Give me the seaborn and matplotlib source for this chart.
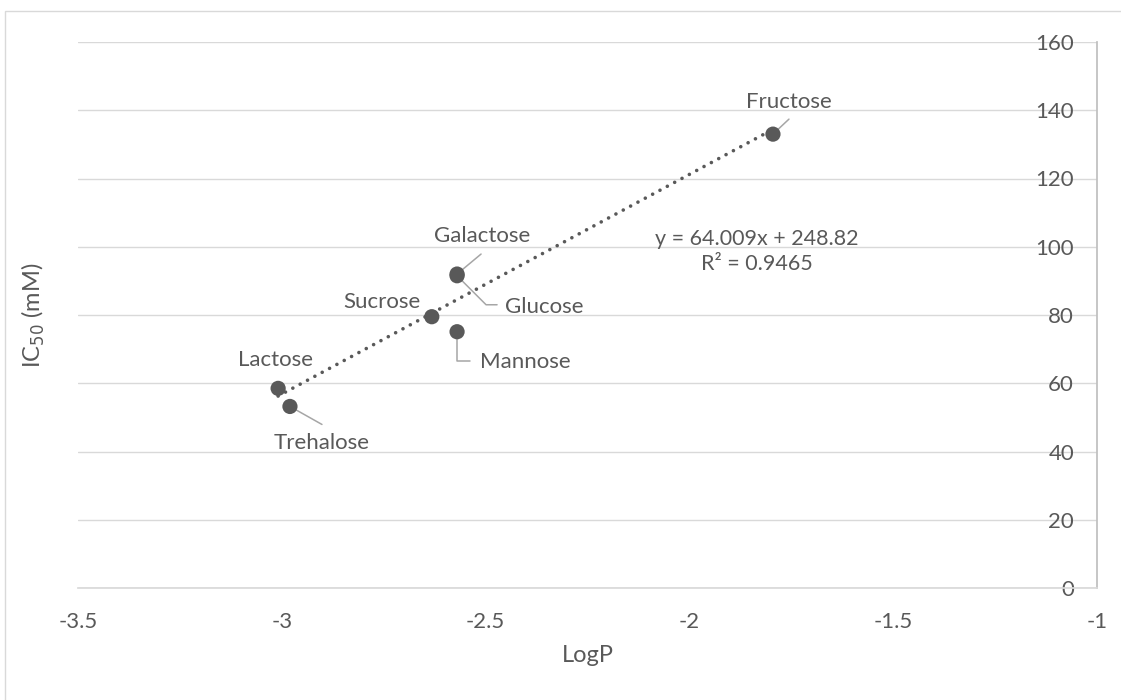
import matplotlib
matplotlib.use("Agg")
import matplotlib.pyplot as plt
from matplotlib.patches import Rectangle
import pandas as pd
import seaborn as sns

# values
sugars = ["Fructose", "Galactose", "Glucose", "Sucrose", "Mannose", "Lactose", "Trehalose"]
logp = [-1.795, -2.570, -2.570, -2.632, -2.570, -3.009, -2.980]
ic50 = [133.0, 92.0, 91.5, 79.5, 75.1, 58.5, 53.2]

equation = "y = 64.009x + 248.82\nR² = 0.9465"
x_ticks = [-3.5, -3, -2.5, -2, -1.5, -1]
x_tick_labels = ["-3.5", "-3", "-2.5", "-2", "-1.5", "-1"]
y_ticks = [0, 20, 40, 60, 80, 100, 120, 140, 160]

# label placement: text offset (px), alignment, leader end offset (px), leader style
label_pos = {
    "Fructose": ((16, 32), "center", (16, 15), None),
    "Galactose": ((25, 38), "center", (24, 20), None),
    "Glucose": ((48, -31), "left", (40, -29), "angle,angleA=0,angleB=-45,rad=0"),
    "Sucrose": ((-50, 15), "center", None, None),
    "Mannose": ((23, -30), "left", (13, -29), "angle,angleA=0,angleB=90,rad=0"),
    "Lactose": ((-3, 28), "center", None, None),
    "Trehalose": ((32, -37), "center", (32, -18), None),
}

TEXT = "#595959"
GRID = "#d9d9d9"

sns.set_theme(style="white")
plt.rcParams["font.family"] = ["Lato", "DejaVu Sans"]

df = pd.DataFrame({"Sugar": sugars, "LogP": logp, "IC50": ic50})

fig = plt.figure(figsize=(11.21, 7.0), dpi=100)
ax = fig.add_axes([78 / 1121, 1 - 588 / 700, 1019 / 1121, 546 / 700])

sns.regplot(data=df, x="LogP", y="IC50", scatter=False, ci=None, truncate=True,
            line_kws=dict(color=TEXT, lw=2.6, linestyle=(0, (0.01, 2.3)),
                          dash_capstyle="round", zorder=2), ax=ax)
sns.scatterplot(data=df, x="LogP", y="IC50", color=TEXT, s=120, edgecolor="none",
                zorder=4, ax=ax)

for name, x, y in zip(sugars, logp, ic50):
    (tx, ty), ha, lead, conn = label_pos[name]
    ax.annotate(name, xy=(x, y), xytext=(tx, ty), textcoords="offset pixels",
                ha=ha, va="center", fontsize=16, color=TEXT)
    if lead is not None:
        ax.annotate("", xy=(x, y), xytext=lead, textcoords="offset pixels",
                    arrowprops=dict(arrowstyle="-", color="#a6a6a6", lw=1.1,
                                    shrinkA=0, shrinkB=0,
                                    connectionstyle=conn or "arc3"),
                    zorder=3)

ax.text(0.666, 0.617, equation, transform=ax.transAxes, ha="center", va="center",
        fontsize=15.5, color=TEXT, linespacing=1.3)

ax.set_xlim(-3.5, -1)
ax.set_ylim(0, 160)
ax.set_xticks(x_ticks)
ax.set_xticklabels(x_tick_labels)
ax.set_yticks(y_ticks)
ax.grid(axis="y", color=GRID, lw=1)
ax.set_axisbelow(True)

for side in ["top", "left"]:
    ax.spines[side].set_visible(False)
ax.spines["bottom"].set_color(GRID)
ax.spines["right"].set_color("#bfbfbf")

ax.tick_params(axis="x", length=0, pad=17, labelsize=16, labelcolor=TEXT)
ax.yaxis.tick_right()
ax.tick_params(axis="y", length=0, pad=-16.5, labelsize=16, labelcolor=TEXT)
for t in ax.yaxis.get_major_ticks():
    t.label2.set_horizontalalignment("right")

ax.set_xlabel("LogP", fontsize=17, color=TEXT)
ax.set_ylabel("IC$_{50}$ (mM)", fontsize=17, color=TEXT)
ax.xaxis.set_label_coords(0.5, -0.105)
ax.yaxis.set_label_position("left")
ax.yaxis.set_label_coords(-0.030, 0.5)

fig.patches.append(Rectangle((5 / 1121, -0.1), 1.2, 1 - 11 / 700 + 0.1,
                             transform=fig.transFigure, fill=False,
                             edgecolor=GRID, lw=1))

fig.savefig("out.png", dpi=100)
